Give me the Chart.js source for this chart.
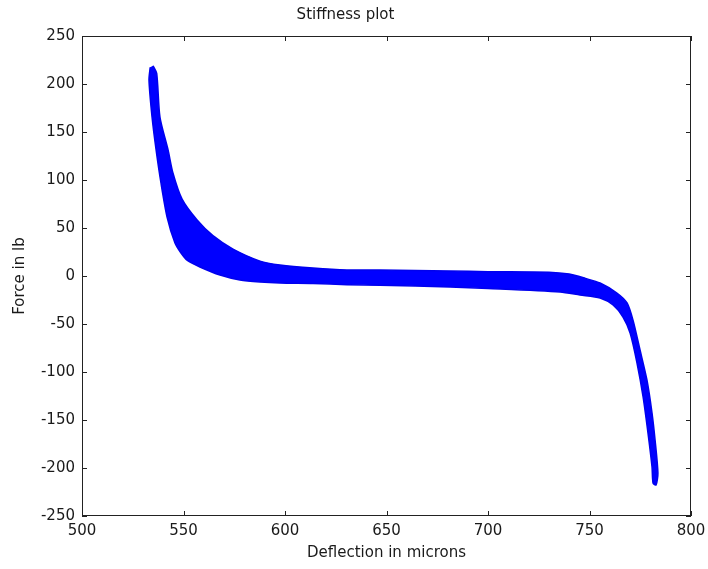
<!DOCTYPE html>
<html>
<head>
<meta charset="utf-8">
<title>Stiffness plot</title>
<script src="https://cdn.jsdelivr.net/npm/chart.js@4.4.1/dist/chart.umd.min.js"></script>
<style>
  html, body { margin: 0; padding: 0; background: #fff; }
  #wrap { width: 708px; height: 569px; }
</style>
</head>
<body>
<div id="wrap"><canvas id="grafica"></canvas></div>
<script>
// Upper/right edge of the measured band (left tip -> right tip)
const upperX = [535.0, 536.8, 538.4, 542.4, 544.8, 549.3, 556.7, 564.5, 574.4, 587.7, 597.5, 613.8, 630.5, 646.8, 681.3, 700, 730, 740, 748, 755.2, 763.5, 768.5, 771.4, 774.9, 778.3, 780.8, 782.3, 783.7, 782.8];
const upperY = [219, 211, 165.6, 131.3, 107.3, 80.0, 58.3, 42.0, 28.0, 15.5, 11.5, 8.3, 6.3, 6.3, 5.2, 4.5, 4.0, 2.0, -2.5, -7.3, -17.7, -28.1, -45.8, -77.1, -108.3, -142.7, -170.8, -205.2, -217.7];

// Lower/left edge of the band (left tip -> right tip)
const lowerX = [533.6, 533.0, 534.5, 536.5, 538.9, 541.9, 545.8, 548.6, 551.9, 558.1, 568.0, 577.8, 587.7, 597.5, 613.8, 630.5, 646.8, 681.3, 700, 735.5, 745.3, 755.2, 761.6, 766.5, 770.0, 773.4, 776.4, 778.8, 780.8, 781.3];
const lowerY = [217.5, 204.2, 165.6, 131.3, 96.9, 61.5, 34.4, 24.5, 16.2, 9.4, 1.0, -4.2, -6.3, -7.3, -7.8, -9.0, -9.6, -11.5, -13, -16.7, -19.8, -22.9, -30.2, -42.7, -59.4, -90.6, -126.0, -163.5, -199.0, -215.6];

// Axis ticks
const xTicks = [500, 550, 600, 650, 700, 750, 800];
const yTicks = [-250, -200, -150, -100, -50, 0, 50, 100, 150, 200, 250];

const fuente = "'DejaVu Sans', Arial, sans-serif";
const colorTexto = "#1a1a1a";

// Closed outline: along the upper edge, back along the lower edge
const contorno = [];
upperX.forEach((x, i) => contorno.push({ x, y: upperY[i] }));
for (let i = lowerX.length - 1; i >= 0; i--) {
  contorno.push({ x: lowerX[i], y: lowerY[i] });
}

// Box around the plot with inward ticks (MATLAB style)
const cajaMatlab = {
  id: "cajaMatlab",
  afterDatasetsDraw(chart) {
    const { ctx, chartArea: a, scales } = chart;
    const largo = 5;
    ctx.save();
    ctx.strokeStyle = "#222";
    ctx.lineWidth = 1;
    ctx.strokeRect(a.left + 0.5, a.top + 0.5, a.right - a.left - 1, a.bottom - a.top - 1);
    ctx.beginPath();
    xTicks.forEach((v) => {
      const px = Math.round(scales.x.getPixelForValue(v)) + 0.5;
      ctx.moveTo(px, a.top);
      ctx.lineTo(px, a.top + largo);
      ctx.moveTo(px, a.bottom);
      ctx.lineTo(px, a.bottom - largo);
    });
    yTicks.forEach((v) => {
      const py = Math.round(scales.y.getPixelForValue(v)) + 0.5;
      ctx.moveTo(a.left, py);
      ctx.lineTo(a.left + largo, py);
      ctx.moveTo(a.right, py);
      ctx.lineTo(a.right - largo, py);
    });
    ctx.stroke();
    ctx.restore();
  },
};

const ctx = document.getElementById("grafica").getContext("2d");

new Chart(ctx, {
  type: "scatter",
  data: {
    datasets: [
      {
        label: "Force",
        data: contorno,
        showLine: true,
        fill: "shape",
        backgroundColor: "#0000ff",
        borderColor: "#0000ee",
        borderWidth: 1.5,
        pointRadius: 0,
        tension: 0.25,
      },
    ],
  },
  options: {
    responsive: true,
    maintainAspectRatio: false,
    animation: false,
    layout: { padding: { left: 0, right: 17, top: 0, bottom: 0 } },
    plugins: {
      legend: { display: false },
      tooltip: { enabled: false },
      title: {
        display: true,
        text: "Stiffness plot",
        color: colorTexto,
        font: { family: fuente, size: 15, weight: "normal" },
        padding: { top: 6, bottom: 12 },
      },
    },
    scales: {
      x: {
        type: "linear",
        min: 500,
        max: 800,
        afterBuildTicks: (s) => { s.ticks = xTicks.map((v) => ({ value: v })); },
        afterFit: (s) => {
          s.height = 53;
          s.paddingLeft = 0;
          s.paddingRight = 0;
        },
        grid: { display: false, drawTicks: false },
        border: { display: false },
        ticks: {
          padding: 6,
          color: colorTexto,
          maxRotation: 0,
          font: { family: fuente, size: 15 },
        },
        title: {
          display: true,
          text: "Deflection in microns",
          color: colorTexto,
          font: { family: fuente, size: 15 },
          padding: { top: 0, bottom: 7 },
        },
      },
      y: {
        type: "linear",
        min: -250,
        max: 250,
        afterBuildTicks: (s) => { s.ticks = yTicks.map((v) => ({ value: v })); },
        afterFit: (s) => {
          s.width = 82;
          s.paddingTop = 0;
          s.paddingBottom = 0;
        },
        grid: { display: false, drawTicks: false },
        border: { display: false },
        ticks: {
          padding: 7,
          color: colorTexto,
          font: { family: fuente, size: 15 },
        },
        title: {
          display: true,
          text: "Force in lb",
          color: colorTexto,
          font: { family: fuente, size: 15 },
          padding: { top: 11, bottom: 0 },
        },
      },
    },
  },
  plugins: [cajaMatlab],
});
</script>
</body>
</html>
